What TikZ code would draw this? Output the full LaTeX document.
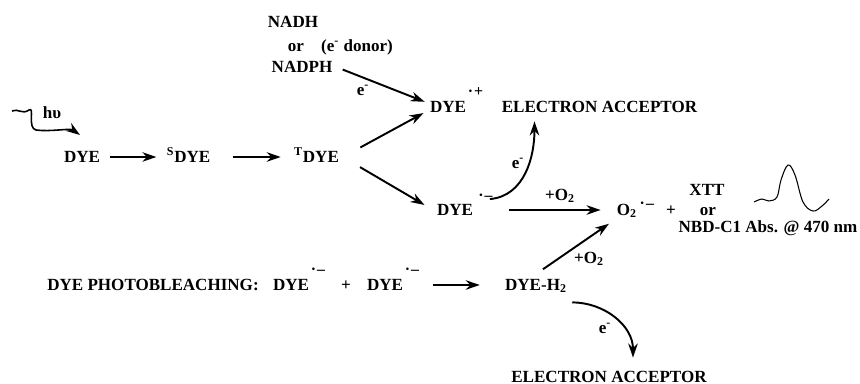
\documentclass[tikz,border=0pt]{standalone}
\usepackage{fontspec}
\setmainfont{Liberation Serif}
\usetikzlibrary{arrows.meta}

% radical charge: gap, raise, sign
\newcommand{\radsup}[3]{\rlap{\hspace{#1}\raisebox{#2}{\small ·\kern0.6pt#3}}}

\begin{document}
\begin{tikzpicture}[
    every node/.style={font=\fontsize{9.7}{11}\selectfont\bfseries, inner sep=2pt, text height=1.5ex, text depth=.25ex},
    rxn/.style={-{Stealth[length=2.8mm,width=1.9mm,inset=0.9mm]}, line width=1.1pt}]
    \useasboundingbox (0,0) rectangle (17.2,7.68);

    % Excitation
    \coordinate (hvsrc) at (0.24,5.46);
    \coordinate (hvtip) at (1.6,4.98);
    \draw[rxn, line width=0.9pt] (hvsrc) .. controls (0.36,5.52) and (0.44,5.38) .. (0.58,5.48)
        .. controls (0.70,5.56) and (0.54,5.12) .. (0.72,5.08)
        .. controls (1.0,5.04) and (1.4,5.12) .. (hvtip);
    \node (hv) at (1.04,5.42) {hυ};

    \node (dye) at (1.64,4.54) {DYE};
    \node (sdye) at (3.77,4.54) {\textsuperscript{S}DYE};
    \node (tdye) at (6.33,4.54) {\textsuperscript{T}DYE};
    \draw[rxn, shorten <=0.13cm, shorten >=0.13cm] (dye) -- (sdye);
    \draw[rxn, shorten <=0.37cm, shorten >=0.19cm] (sdye) -- (tdye);

    % Electron donor
    \node (nadh) at (5.86,7.24) {NADH};
    \node (nador) at (5.92,6.76) {or};
    \node (donor) at (7.14,6.76) {(e\textsuperscript{-} donor)};
    \node (nadph) at (6.04,6.34) {NADPH};
    \node (elA) at (7.26,5.88) {e\textsuperscript{-}};

    % Radical ions
    \node (dyep) at (8.96,5.54) {DYE\radsup{1pt}{9pt}{+}};
    \node (accA) at (11.99,5.54) {ELECTRON ACCEPTOR};
    \node (dyem) at (9.10,3.48) {DYE\radsup{3pt}{8.5pt}{–}};
    \node (elB) at (10.36,4.42) {e\textsuperscript{-}};

    \draw[rxn, shorten <=0.14cm, shorten >=0.03cm] (nadph.east) -- (dyep.168);
    \draw[rxn, shorten <=0.4cm, shorten >=0.06cm] (tdye.east) -- (dyep.192);
    \draw[rxn, shorten <=0.4cm, shorten >=0.2cm] (tdye.east) -- (dyem.west);
    \draw[rxn] ([xshift=0.26cm]dyem.north east) to[out=5,in=-90] ([xshift=0.73cm,yshift=-0.07cm]accA.south west);

    % Superoxide detection
    \node (oxA) at (11.2,3.78) {+O\textsubscript{2}};
    \node (o2) at (12.54,3.48) {O\textsubscript{2}\radsup{1.5pt}{4pt}{–}};
    \node (plusA) at (13.42,3.48) {+};
    \node (xtt) at (14.14,3.88) {XTT};
    \node (xor) at (14.16,3.48) {or};
    \node (nbd) at (15.36,3.14) {NBD-C1 Abs. @ 470 nm};
    \draw[rxn, shorten <=0.65cm, shorten >=0.25cm] (dyem.east) -- (o2.west);

    % Absorbance band
    \draw[line width=0.6pt] plot[smooth, tension=0.6] coordinates {(15.08,3.64) (15.24,3.70) (15.38,3.66) (15.54,3.74)
        (15.62,4.08) (15.76,4.38) (15.90,4.18) (16.06,3.64) (16.26,3.46) (16.44,3.56) (16.58,3.70)};

    % Photobleaching
    \node (bleach) at (3.06,1.98) {DYE PHOTOBLEACHING:};
    \node (dyeb1) at (5.82,1.98) {DYE\radsup{1pt}{9pt}{–}};
    \node (plusB) at (6.92,1.98) {+};
    \node (dyeb2) at (7.70,1.98) {DYE\radsup{1pt}{9pt}{–}};
    \node (dyeh) at (10.72,1.98) {DYE-H\textsubscript{2}};
    \node (oxB) at (11.78,2.52) {+O\textsubscript{2}};
    \node (elC) at (12.10,1.12) {e\textsuperscript{-}};
    \node (accB) at (12.18,0.14) {ELECTRON ACCEPTOR};

    \draw[rxn, shorten <=0.53cm, shorten >=0.43cm] (dyeb2.east) -- (dyeh.west);
    \draw[rxn, shorten <=0.17cm, shorten >=0.1cm] (dyeh.north) -- (o2.south west);
    \draw[rxn] ([xshift=0.03cm,yshift=-0.13cm]dyeh.south east) to[out=0,in=90] ([xshift=0.48cm,yshift=0.17cm]accB.north);
\end{tikzpicture}
\end{document}
